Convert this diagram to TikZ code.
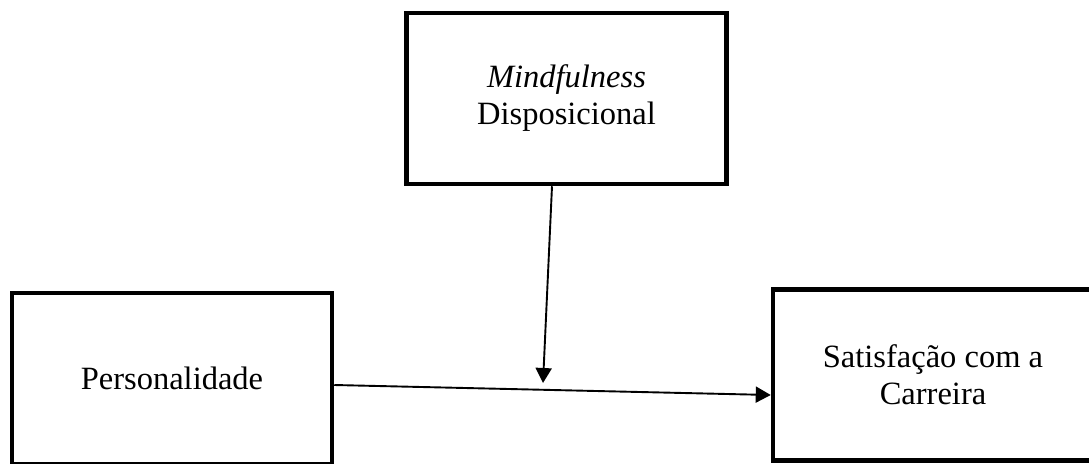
\documentclass[tikz,border=0pt]{standalone}
\usepackage{fontspec}
\setmainfont{Liberation Serif}
\usetikzlibrary{arrows.meta}
\begin{document}
\begin{tikzpicture}[x=1pt,y=-1pt,
  box/.style={draw, line width=4.5pt, rectangle, minimum width=320pt, minimum height=171pt,
    inner sep=0pt, align=center, font=\fontsize{32.5}{37}\selectfont},
  conn/.style={line width=1.9pt, -{Triangle[length=15pt,width=16pt]}}]
\clip (0,0) rectangle (1089,463);
\node[box] (pers) at (172,378.5) {Personalidade};
\node[box] (mind) at (566.5,98.5) {\textit{Mindfulness}\\Disposicional};
\node[box] (sat) at (933,375) {Satisfação com a\\Carreira};
\coordinate (mtip) at (543,383);
\draw[conn] ([xshift=-14.5pt]mind.south) -- (mtip);
\draw[conn] ([yshift=-6.5pt]pers.east) -- ([yshift=-20pt]sat.west);
\end{tikzpicture}
\end{document}
